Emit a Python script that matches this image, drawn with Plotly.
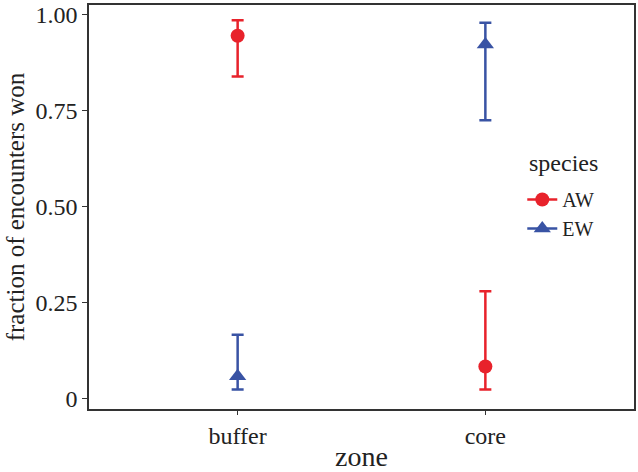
import plotly.graph_objects as go

# data
zones = ["buffer", "core"]
species = ["AW", "EW"]
aw_mean = [0.945, 0.083]
aw_low = [0.839, 0.023]
aw_high = [0.985, 0.279]
ew_mean = [0.058, 0.922]
ew_low = [0.023, 0.725]
ew_high = [0.166, 0.979]

y_ticks = [0, 0.25, 0.5, 0.75, 1.0]
y_tick_text = ["0", "0.25", "0.50", "0.75", "1.00"]

RED = "#e8222b"
BLUE = "#3953a4"
FONT = "Liberation Serif"

fig = go.Figure()

series = [
    ("AW", aw_mean, aw_low, aw_high, RED, "circle", 14),
    ("EW", ew_mean, ew_low, ew_high, BLUE, "triangle-up", 15),
]

for name, mean, low, high, color, symbol, size in series:
    fig.add_trace(go.Scatter(
        x=zones,
        y=mean,
        mode="markers",
        marker=dict(color=color, symbol=symbol, size=size),
        error_y=dict(
            type="data",
            symmetric=False,
            array=[h - m for h, m in zip(high, mean)],
            arrayminus=[m - l for m, l in zip(mean, low)],
            color=color,
            thickness=2.5,
            width=6,
        ),
        showlegend=False,
    ))
    # legend key: marker with a line through it, like the ggplot key
    fig.add_trace(go.Scatter(
        x=[None], y=[None],
        mode="lines+markers",
        name=name,
        line=dict(color=color, width=2.5),
        marker=dict(color=color, symbol=symbol, size=size),
    ))

fig.update_layout(
    width=638,
    height=472,
    paper_bgcolor="white",
    plot_bgcolor="white",
    margin=dict(l=89, r=2, t=3, b=61),
    font=dict(family=FONT, size=23, color="#222"),
    legend=dict(
        x=0.795, y=0.567,
        xanchor="left", yanchor="top",
        font=dict(size=20),
        bgcolor="rgba(0,0,0,0)",
        itemwidth=30,
        tracegroupgap=0,
    ),
    # legend title drawn separately so its gap to the keys matches
    annotations=[dict(
        text="species",
        x=0.87, y=0.608,
        xref="paper", yref="paper",
        xanchor="center", yanchor="middle",
        showarrow=False,
        font=dict(size=24),
    )],
)

fig.update_xaxes(
    title=dict(text="zone", font=dict(size=28), standoff=2),
    range=[-0.6, 1.6],
    showgrid=False,
    showline=True, mirror=True, linecolor="#333", linewidth=1.5,
    ticks="outside", ticklen=4, tickcolor="#333",
    tickfont=dict(size=24),
)
fig.update_yaxes(
    title=dict(text="fraction of encounters won", font=dict(size=25), standoff=4),
    range=[-0.0276, 1.025],
    tickvals=y_ticks,
    ticktext=y_tick_text,
    showgrid=False,
    zeroline=False,
    showline=True, mirror=True, linecolor="#333", linewidth=1.5,
    ticks="outside", ticklen=5, tickcolor="#333",
    tickfont=dict(size=24),
)

# drop the default page margin so the figure sits at the window's corner
fig.write_html(
    "out.html",
    config={"displayModeBar": False},
    post_script="document.body.style.margin='0';",
)
